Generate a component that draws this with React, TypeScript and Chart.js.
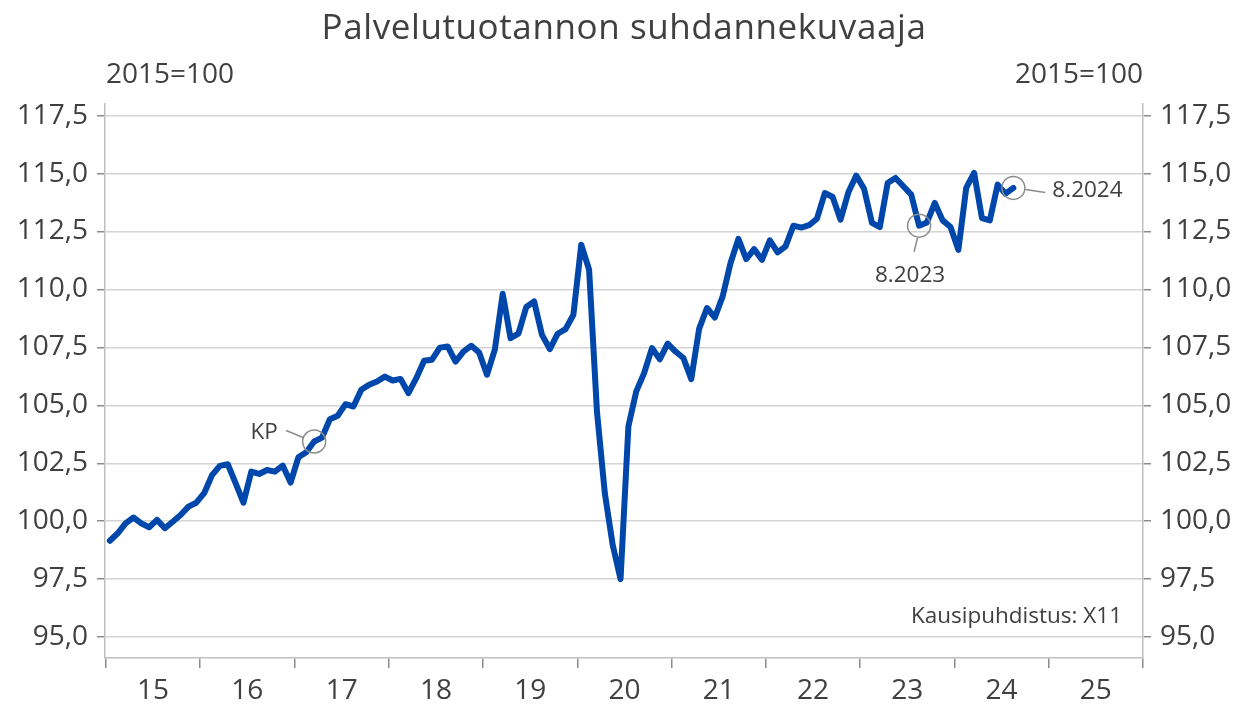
import React, { useEffect, useRef } from 'react';
import { Chart, registerables } from 'chart.js';

Chart.register(...registerables);

const TITLE = 'Palvelutuotannon suhdannekuvaaja';
const UNIT_LABEL = '2015=100';
const NOTE = 'Kausipuhdistus: X11';
const START_YEAR = 2015;
const YEAR_LABELS = ['15', '16', '17', '18', '19', '20', '21', '22', '23', '24', '25'];
const Y_TICKS = [95, 97.5, 100, 102.5, 105, 107.5, 110, 112.5, 115, 117.5];

const V2015 = [99.16, 99.48, 99.91, 100.16, 99.91, 99.74, 100.06, 99.7, 99.98, 100.27, 100.63, 100.8];
const V2016 = [101.21, 101.99, 102.39, 102.46, 101.64, 100.8, 102.14, 102.04, 102.21, 102.14, 102.4, 101.67];
const V2017 = [102.76, 102.98, 103.44, 103.61, 104.4, 104.55, 105.05, 104.95, 105.67, 105.89, 106.03, 106.24];
const V2018 = [106.07, 106.14, 105.53, 106.17, 106.92, 106.97, 107.49, 107.54, 106.89, 107.32, 107.57, 107.28];
const V2019 = [106.32, 107.4, 109.81, 107.9, 108.09, 109.24, 109.48, 108.04, 107.43, 108.09, 108.29, 108.91];
const V2020 = [111.93, 110.85, 104.73, 101.21, 98.98, 97.5, 104.09, 105.6, 106.39, 107.47, 106.99, 107.66];
const V2021 = [107.32, 107.04, 106.13, 108.3, 109.2, 108.79, 109.7, 111.14, 112.18, 111.31, 111.74, 111.28];
const V2022 = [112.12, 111.6, 111.86, 112.75, 112.67, 112.77, 113.05, 114.16, 113.99, 113.01, 114.19, 114.91];
const V2023 = [114.34, 112.87, 112.69, 114.59, 114.81, 114.45, 114.09, 112.75, 112.89, 113.73, 112.98, 112.69];
const V2024 = [111.71, 114.38, 115.03, 113.08, 112.98, 114.52, 114.13, 114.38];

const VALUES = [...V2015, ...V2016, ...V2017, ...V2018, ...V2019, ...V2020, ...V2021, ...V2022, ...V2023, ...V2024];

// annotated points: label + month index (0 = Jan 2015)
const ANNOTATIONS = [
  { label: 'KP', index: 26 },
  { label: '8.2023', index: 103 },
  { label: '8.2024', index: 115 },
];

const TEXT = '#404040';
const GRID = '#d4d4d4';
const AXIS = '#bfbfbf';
const TICKC = '#8c8c8c';
const FONT = "'Open Sans', 'Noto Sans', sans-serif";

const fmt = (v: number) => v.toFixed(1).replace('.', ',');

const overlay = {
  id: 'overlay',
  afterDraw(chart: any) {
    const ctx = chart.ctx;
    const area = chart.chartArea;
    const x = chart.scales.x;
    const y = chart.scales.y;
    ctx.save();
    ctx.fillStyle = TEXT;
    ctx.textBaseline = 'middle';
    // title
    ctx.font = `35px ${FONT}`;
    (ctx as any).letterSpacing = '0.6px';
    ctx.textAlign = 'center';
    ctx.fillText(TITLE, (area.left + area.right) / 2, 29);
    (ctx as any).letterSpacing = '0px';
    // unit labels
    ctx.font = `28px ${FONT}`;
    ctx.textAlign = 'left';
    ctx.fillText(UNIT_LABEL, 106, 75);
    ctx.textAlign = 'right';
    ctx.fillText(UNIT_LABEL, area.right, 75);
    // year labels
    ctx.textAlign = 'center';
    YEAR_LABELS.forEach((lab, i) => {
      const cx = x.getPixelForValue(START_YEAR + i + 0.5);
      ctx.fillText(lab, cx, 691);
    });
    // note
    ctx.font = `22.5px ${FONT}`;
    ctx.textAlign = 'right';
    ctx.fillText(NOTE, area.right - 21, 617);
    // annotations
    ctx.strokeStyle = '#8c8c8c';
    ctx.lineWidth = 1.5;
    ANNOTATIONS.forEach((a, k) => {
      const px = x.getPixelForValue(START_YEAR + (a.index + 0.5) / 12);
      const py = y.getPixelForValue(VALUES[a.index]);
      const r = 11.5;
      ctx.beginPath();
      ctx.arc(px, py, r, 0, Math.PI * 2);
      ctx.stroke();
      ctx.beginPath();
      if (k === 0) {
        ctx.moveTo(px - 28, py - 11);
        ctx.lineTo(px - 11, py - 4);
        ctx.stroke();
        ctx.textAlign = 'center';
        ctx.fillText(a.label, px - 50, py - 9);
      } else if (k === 1) {
        ctx.moveTo(px - 1.5, py + 12);
        ctx.lineTo(px - 5, py + 26);
        ctx.stroke();
        ctx.textAlign = 'center';
        ctx.fillText(a.label, px - 9, py + 50);
      } else {
        ctx.moveTo(px + 12, py + 1.5);
        ctx.lineTo(px + 32, py + 4.5);
        ctx.stroke();
        ctx.textAlign = 'left';
        ctx.fillText(a.label, px + 39, py + 3);
      }
    });
    ctx.restore();
  },
};

export default function App() {
  const ref = useRef<HTMLCanvasElement>(null);
  useEffect(() => {
    document.body.style.margin = '0';
    const canvas = ref.current!;
    const data = VALUES.map((v, i) => ({ x: START_YEAR + (i + 0.5) / 12, y: v }));
    const setTicks = (s: any) => {
      s.ticks = Y_TICKS.map((v) => ({ value: v }));
    };
    const chart = new Chart(canvas, {
      type: 'line',
      data: {
        datasets: [
          {
            data,
            borderColor: '#0047AB',
            borderWidth: 6,
            pointRadius: 0,
            tension: 0,
            borderJoinStyle: 'round',
            borderCapStyle: 'round',
            yAxisID: 'y',
          },
        ],
      },
      options: {
        animation: false,
        responsive: false,
        maintainAspectRatio: false,
        layout: { padding: { top: 104, left: 0, right: 0, bottom: 0 } },
        plugins: { legend: { display: false }, tooltip: { enabled: false }, title: { display: false } },
        scales: {
          x: {
            type: 'linear',
            min: START_YEAR - 0.01,
            max: START_YEAR + 11,
            afterBuildTicks: (s: any) => {
              s.ticks = YEAR_LABELS.concat(['26']).map((_, i) => ({ value: START_YEAR + i }));
            },
            afterFit: (s: any) => {
              s.height = 46;
            },
            ticks: { display: false },
            grid: { drawOnChartArea: false, drawTicks: true, tickLength: 10, color: TICKC, tickColor: TICKC, lineWidth: 1.5 },
            border: { display: true, color: AXIS, width: 1.5 },
          },
          y: {
            type: 'linear',
            position: 'left',
            min: 94.1,
            max: 118,
            afterBuildTicks: setTicks,
            afterFit: (s: any) => {
              s.width = 105;
            },
            ticks: { callback: (v: any) => fmt(Number(v)), color: TEXT, font: { family: FONT, size: 28 }, padding: 9 },
            grid: { color: GRID, tickColor: TICKC, tickLength: 8, lineWidth: 1.5 },
            border: { display: true, color: AXIS, width: 1.5 },
          },
          y2: {
            type: 'linear',
            position: 'right',
            min: 94.1,
            max: 118,
            afterBuildTicks: setTicks,
            afterFit: (s: any) => {
              s.width = 96;
            },
            ticks: { callback: (v: any) => fmt(Number(v)), color: TEXT, font: { family: FONT, size: 28 }, padding: 9 },
            grid: { drawOnChartArea: false, tickColor: TICKC, tickLength: 8, lineWidth: 1.5 },
            border: { display: true, color: AXIS, width: 1.5 },
          },
        },
      },
      plugins: [overlay],
    } as any);
    return () => chart.destroy();
  }, []);
  return (
    <div style={{ position: 'fixed', left: 0, top: 0, width: 1239, height: 704, background: '#fff' }}>
      <canvas ref={ref} width={1239} height={704} style={{ width: 1239, height: 704, display: 'block' }} />
    </div>
  );
}
